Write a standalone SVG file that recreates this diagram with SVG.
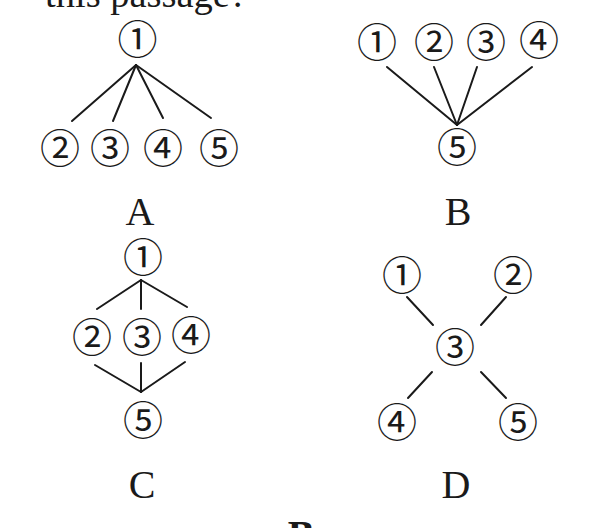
<svg xmlns="http://www.w3.org/2000/svg" width="607" height="528" viewBox="0 0 607 528">
<style>
.n{font-family:"Noto Sans CJK SC","DejaVu Sans",sans-serif;font-size:40px;fill:#1a1a1a;text-anchor:middle}
.lab{font-family:"Liberation Serif","Times New Roman",serif;font-size:40px;fill:#1a1a1a;text-anchor:middle}
.c line{stroke:#1a1a1a;stroke-width:2;stroke-linecap:round}
</style>
<rect width="607" height="528" fill="#fff"/>
<text x="45" y="7" font-family="Liberation Serif, serif" font-size="38" fill="#1a1a1a" textLength="202" lengthAdjust="spacingAndGlyphs">this passage?</text>

<g id="connectors" class="c">
<line x1="136" y1="65" x2="72" y2="121"/>
<line x1="136" y1="65" x2="113" y2="121"/>
<line x1="136" y1="65" x2="163" y2="118"/>
<line x1="136" y1="65" x2="211" y2="118"/>
<line x1="387" y1="67" x2="457" y2="125"/>
<line x1="434" y1="67" x2="457" y2="125"/>
<line x1="477" y1="67" x2="457" y2="125"/>
<line x1="532" y1="67" x2="457" y2="125"/>
<line x1="141" y1="280" x2="97" y2="309"/>
<line x1="141" y1="280" x2="141" y2="309"/>
<line x1="141" y1="280" x2="187" y2="307"/>
<line x1="95" y1="365" x2="141" y2="392"/>
<line x1="141" y1="363" x2="141" y2="392"/>
<line x1="185" y1="362" x2="141" y2="392"/>
<line x1="407" y1="297" x2="433" y2="325"/>
<line x1="506" y1="297" x2="481" y2="325"/>
<line x1="432" y1="372" x2="408" y2="398"/>
<line x1="481" y1="372" x2="506" y2="398"/>
</g>

<g id="A1"><text class="n" x="137.5" y="54">①</text></g>
<g id="A2"><text class="n" x="60" y="163">②</text></g>
<g id="A3"><text class="n" x="110" y="163">③</text></g>
<g id="A4"><text class="n" x="163" y="163">④</text></g>
<g id="A5"><text class="n" x="219" y="163">⑤</text></g>

<g id="B1"><text class="n" x="377" y="57">①</text></g>
<g id="B2"><text class="n" x="434" y="57">②</text></g>
<g id="B3"><text class="n" x="486" y="57">③</text></g>
<g id="B4"><text class="n" x="539" y="55">④</text></g>
<g id="B5"><text class="n" x="457" y="162">⑤</text></g>

<g id="C1"><text class="n" x="143" y="272">①</text></g>
<g id="C2"><text class="n" x="92" y="352">②</text></g>
<g id="C3"><text class="n" x="142" y="352">③</text></g>
<g id="C4"><text class="n" x="191" y="350">④</text></g>
<g id="C5"><text class="n" x="143" y="435">⑤</text></g>

<g id="D1"><text class="n" x="402" y="290">①</text></g>
<g id="D2"><text class="n" x="513" y="290">②</text></g>
<g id="D3"><text class="n" x="455" y="362">③</text></g>
<g id="D4"><text class="n" x="397" y="437">④</text></g>
<g id="D5"><text class="n" x="518" y="437">⑤</text></g>

<g id="labels">
<text class="lab" x="140" y="225">A</text>
<text class="lab" x="458" y="225">B</text>
<text class="lab" x="142" y="498">C</text>
<text class="lab" x="456" y="498">D</text>
<text class="lab" x="301" y="548" font-weight="bold">B</text>
</g>
</svg>
